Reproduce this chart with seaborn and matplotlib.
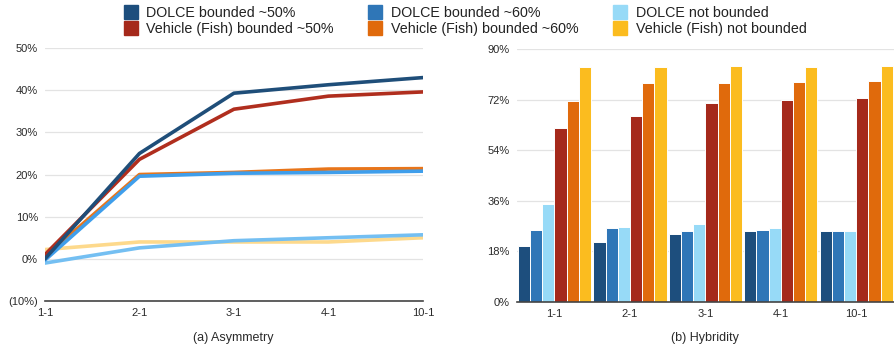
import numpy as np
import pandas as pd
import seaborn as sns
import matplotlib.pyplot as plt
from matplotlib.lines import Line2D
from matplotlib.ticker import FuncFormatter

# data
ratios = ["1-1", "2-1", "3-1", "4-1", "10-1"]
series = ["DOLCE bounded ~50%", "DOLCE bounded ~60%", "DOLCE not bounded",
          "Vehicle (Fish) bounded ~50%", "Vehicle (Fish) bounded ~60%", "Vehicle (Fish) not bounded"]

# (a) asymmetry, percent
asym_dolce_50 = [0.0, 25.0, 39.3, 41.3, 43.0]
asym_dolce_60 = [-0.3, 19.6, 20.3, 20.5, 20.8]
asym_dolce_nb = [-1.0, 2.6, 4.3, 5.0, 5.7]
asym_fish_50 = [1.0, 23.6, 35.5, 38.6, 39.6]
asym_fish_60 = [0.5, 20.0, 20.5, 21.3, 21.4]
asym_fish_nb = [2.2, 4.0, 4.0, 4.0, 5.0]

# (b) hybridity, percent
hyb_dolce_50 = [20.0, 21.3, 24.3, 25.4, 25.4]
hyb_dolce_60 = [25.7, 26.4, 25.4, 25.7, 25.4]
hyb_dolce_nb = [35.0, 26.8, 27.6, 26.4, 25.4]
hyb_fish_50 = [61.8, 66.3, 71.0, 71.8, 72.7]
hyb_fish_60 = [71.4, 77.9, 77.9, 78.2, 78.6]
hyb_fish_nb = [83.6, 83.6, 84.0, 83.6, 84.0]

bar_colors = ["#1d4e7d", "#2f76b7", "#97daf7", "#a5291b", "#e06a0c", "#fbbc1f"]
line_colors = ["#1f4e79", "#3f9eeb", "#74bff2", "#b02e1e", "#e8751a", "#fdd98c"]

asym = pd.DataFrame({
    "ratio": ratios * 6,
    "series": np.repeat(series, 5),
    "value": asym_dolce_50 + asym_dolce_60 + asym_dolce_nb + asym_fish_50 + asym_fish_60 + asym_fish_nb,
})
hyb = pd.DataFrame({
    "ratio": ratios * 6,
    "series": np.repeat(series, 5),
    "value": hyb_dolce_50 + hyb_dolce_60 + hyb_dolce_nb + hyb_fish_50 + hyb_fish_60 + hyb_fish_nb,
})

sns.set_style("white")
plt.rcParams["font.family"] = ["Liberation Sans", "DejaVu Sans"]
txt = "#2a2a2a"

fig = plt.figure(figsize=(8.94, 3.51), dpi=100)
ax1 = fig.add_axes([0.0503, 0.1425, 0.4227, 0.7205])
ax2 = fig.add_axes([0.578, 0.1396, 0.422, 0.7204])

# left: line chart, drawn so the darker lines sit on top
draw_order = [5, 2, 4, 1, 3, 0]
for i in draw_order:
    d = asym[asym.series == series[i]]
    sns.lineplot(data=d, x="ratio", y="value", ax=ax1, color=line_colors[i],
                 linewidth=2.6, sort=False, legend=False)
ax1.set_xlim(0, 4)
ax1.set_ylim(-10, 50)
ax1.set_yticks([-10, 0, 10, 20, 30, 40, 50])
ax1.yaxis.set_major_formatter(FuncFormatter(lambda v, p: f"({abs(v):.0f}%)" if v < 0 else f"{v:.0f}%"))

# right: grouped bars
sns.barplot(data=hyb, x="ratio", y="value", hue="series", hue_order=series,
            palette=bar_colors, saturation=1, ax=ax2, width=0.97, edgecolor="white",
            linewidth=0.7, legend=False, errorbar=None)
ax2.set_xlim(-0.5, 4.5)
ax2.set_ylim(0, 90)
ax2.set_yticks([0, 18, 36, 54, 72, 90])
ax2.yaxis.set_major_formatter(FuncFormatter(lambda v, p: f"{v:.0f}%"))

for ax in (ax1, ax2):
    ax.set_xlabel("")
    ax.set_ylabel("")
    ax.grid(axis="y", color="#e3e3e3", linewidth=0.9)
    ax.set_axisbelow(True)
    for s in ("top", "right", "left"):
        ax.spines[s].set_visible(False)
    ax.spines["bottom"].set_color("#444444")
    ax.spines["bottom"].set_linewidth(1.2)
    ax.tick_params(axis="both", length=0, labelsize=8, colors=txt, pad=5)

fig.text(0.261, 0.037, "(a) Asymmetry", ha="center", va="center", fontsize=9, color=txt)
fig.text(0.789, 0.037, "(b) Hybridity", ha="center", va="center", fontsize=9, color=txt)

# legend, filled column by column
handles = [Line2D([], [], marker="s", linestyle="", markersize=9.5,
                  color=bar_colors[i], label=series[i]) for i in [0, 3, 1, 4, 2, 5]]
fig.legend(handles=handles, ncol=3, loc="upper left", bbox_to_anchor=(0.138, 0.982),
           frameon=False, fontsize=10.3, handletextpad=0.6, columnspacing=2.4,
           labelspacing=0.15, handlelength=1.0, borderpad=0, borderaxespad=0,
           labelcolor="#222222")

fig.savefig("out.png", dpi=100)
